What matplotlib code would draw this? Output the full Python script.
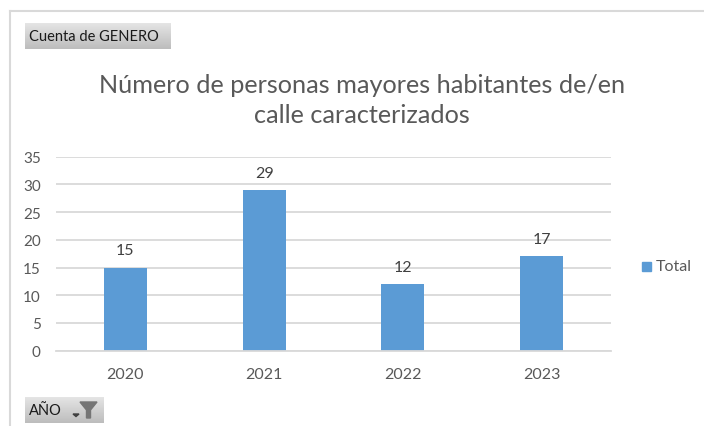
import matplotlib

matplotlib.use("Agg")

import matplotlib.pyplot as plt
import numpy as np
from matplotlib.lines import Line2D
from matplotlib.patches import Polygon, Rectangle

W, H = 704, 427

years = ["2020", "2021", "2022", "2023"]
totals = [15, 29, 12, 17]
y_ticks = [0, 5, 10, 15, 20, 25, 30, 35]

BAR_COLOR = "#5B9BD5"
GRID_COLOR = "#D9D9D9"
TEXT_COLOR = "#595959"

plt.rcParams["font.family"] = ["Lato", "DejaVu Sans"]


def fx(px):
    return px / W


def fy(py):
    return 1 - py / H


def add_button(fig, x0, y0, x1, y1, text):
    ax = fig.add_axes([fx(x0), fy(y1), (x1 - x0) / W, (y1 - y0) / H])
    shade = np.linspace(0.90, 0.74, 32).reshape(-1, 1)
    ax.imshow(shade, cmap="gray", vmin=0, vmax=1, aspect="auto")
    ax.axis("off")
    fig.text(fx(x0 + 4), fy((y0 + y1) / 2), text, fontsize=10.5,
             color="#1a1a1a", va="center", ha="left", zorder=5)


fig = plt.figure(figsize=(W / 100, H / 100), dpi=100, facecolor="white")

# chart frame, only top and left are visible in the crop
fig.add_artist(Line2D([fx(10), fx(10)], [fy(12), 0], color=GRID_COLOR, lw=1.5))
fig.add_artist(Line2D([fx(10), 1], [fy(12), fy(12)], color=GRID_COLOR, lw=1.5))

ax = fig.add_axes([fx(56), fy(351.7), (611 - 56) / W, (351 - 157) / H])
ax.set_axisbelow(True)
ax.bar(years, totals, width=0.31, color=BAR_COLOR)
ax.set_xlim(-0.5, 3.5)
ax.set_ylim(0, 35)
ax.set_yticks(y_ticks)
ax.grid(axis="y", color=GRID_COLOR, linewidth=1.3)
ax.tick_params(length=0, labelsize=11.5, labelcolor=TEXT_COLOR)
ax.tick_params(axis="x", pad=12)
ax.tick_params(axis="y", pad=11, labelsize=11)
for side in ["top", "left", "right"]:
    ax.spines[side].set_visible(False)
ax.spines["bottom"].set_color(GRID_COLOR)
ax.spines["bottom"].set_linewidth(1.3)

for i, value in enumerate(totals):
    ax.annotate(str(value), (i, value), xytext=(0, 7.5), textcoords="offset points",
                ha="center", va="bottom", fontsize=11.5, color="#404040")

fig.text(fx(362), fy(100.5), "Número de personas mayores habitantes de/en\ncalle caracterizados",
         fontsize=18.2, color=TEXT_COLOR, ha="center", va="center", linespacing=1.42)

# legend
fig.add_artist(Rectangle((fx(642), fy(271.5)), 9 / W, 9 / H, color=BAR_COLOR,
                         transform=fig.transFigure))
fig.text(fx(656), fy(267), "Total", fontsize=11.5, color=TEXT_COLOR, va="center")

# pivot field buttons
add_button(fig, 25, 23.5, 171, 50, "Cuenta de GENERO")
add_button(fig, 25, 397.5, 104, 424, "AÑO")

# sort arrow and filter funnel on the AÑO button
fig.add_artist(Polygon([(fx(73), fy(415)), (fx(79), fy(415)), (fx(76), fy(417.5))],
                       closed=True, color="#404040", transform=fig.transFigure, zorder=6))
fig.add_artist(Polygon([(fx(80), fy(403)), (fx(97), fy(403)), (fx(90.5), fy(411)),
                        (fx(90.5), fy(419)), (fx(86.5), fy(419)), (fx(86.5), fy(411))],
                       closed=True, color="#757575", transform=fig.transFigure, zorder=6))

fig.savefig("out.png", dpi=100)
